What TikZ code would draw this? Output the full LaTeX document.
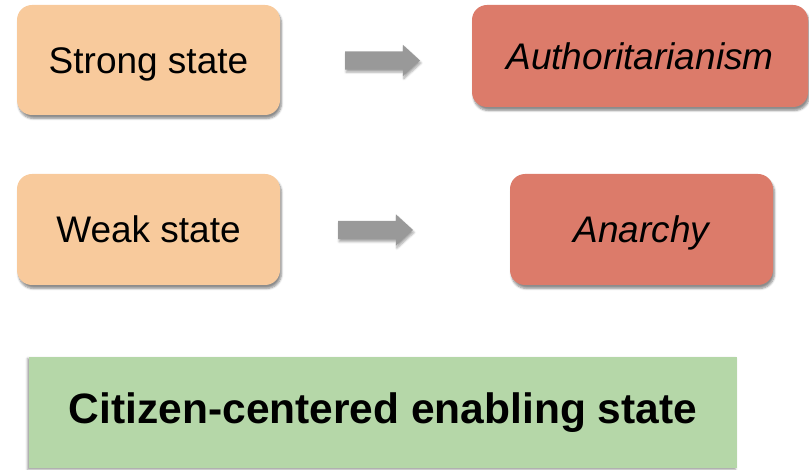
\documentclass[tikz,border=0pt]{standalone}
\usepackage{fontspec}
\setmainfont{Liberation Sans}
\usetikzlibrary{shapes.arrows,shadows.blur}
\definecolor{peach}{HTML}{F8CA9C}
\definecolor{salmon}{HTML}{DC7B6A}
\definecolor{sage}{HTML}{B5D7A8}
\definecolor{arrowgray}{HTML}{999999}
\tikzset{
  box/.style={rounded corners=15pt, inner sep=0pt, font=\fontsize{37}{44}\selectfont,
    text height=26.5pt, text depth=0pt,
    blur shadow={shadow xshift=1.5pt, shadow yshift=-3.5pt, shadow blur steps=6, shadow opacity=45}},
  statebox/.style={box, fill=peach},
  outcomebox/.style={box, fill=salmon, font=\fontsize{37}{44}\selectfont\itshape},
  goalbox/.style={inner sep=0pt, fill=sage, font=\fontsize{42.5}{50}\selectfont\bfseries,
    blur shadow={shadow xshift=-1.5pt, shadow yshift=-1.5pt, shadow blur steps=4, shadow opacity=40}},
  blockarrow/.style={single arrow, fill=arrowgray, inner xsep=0pt, inner ysep=9pt,
    single arrow head extend=6.5pt, single arrow head indent=0pt, minimum height=75pt,
    single arrow tip angle=85,
    blur shadow={shadow xshift=1pt, shadow yshift=-2.5pt, shadow blur steps=5, shadow opacity=35}}
}
\begin{document}
\begin{tikzpicture}[x=1pt,y=1pt]
\useasboundingbox (0,0) rectangle (809,-470);
\node[statebox, minimum width=263pt, minimum height=110pt] (strong) at (148.5,-60) {Strong state};
\node[outcomebox, minimum width=336pt, minimum height=102pt] (auth) at (640,-56) {Authoritarianism};
\node[statebox, minimum width=263pt, minimum height=111pt] (weak) at (148.5,-229.5) {Weak state};
\node[outcomebox, minimum width=263pt, minimum height=111pt] (anarchy) at (641.5,-229.5) {Anarchy};
\node[goalbox, minimum width=708pt, minimum height=111pt] (goal) at (383,-412.5) {Citizen-centered enabling state};
\node[blockarrow] (arr1) at (377.5,-60.5) {};
\node[blockarrow] (arr2) at (370.5,-230) {};
\end{tikzpicture}
\end{document}
